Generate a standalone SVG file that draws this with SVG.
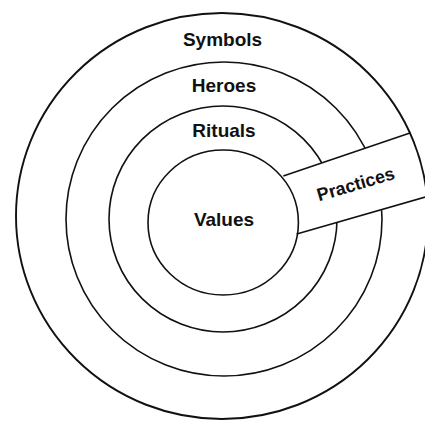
<svg xmlns="http://www.w3.org/2000/svg" width="425" height="421" viewBox="0 0 425 421">
<style>
.ring{fill:none;stroke:#111;stroke-width:1.6}
.outer{fill:none;stroke:#111;stroke-width:1.9}
.edge{stroke:#111;stroke-width:1.6;fill:none}
.lbl{font-family:"Liberation Sans",Arial,sans-serif;font-weight:bold;font-size:19px;fill:#111;text-anchor:middle}
</style>
<rect width="425" height="421" fill="#fff"/>
<g id="heroes">
<ellipse class="ring" cx="224" cy="219" rx="158" ry="157"/>
</g>
<g id="rituals">
<ellipse class="ring" cx="223" cy="219" rx="114" ry="113"/>
</g>
<g id="practices-fill">
<polygon points="283.3,176 410.7,132.7 432,126 432,196 296.7,234" fill="#fff"/>
</g>
<g id="symbols">
<ellipse class="outer" cx="222" cy="216" rx="206" ry="203"/>
<text class="lbl" x="222.5" y="46">Symbols</text>
</g>
<g id="values">
<ellipse class="ring" cx="223.2" cy="222.5" rx="75.2" ry="72.5" fill="#fff"/>
<text class="lbl" x="224" y="226">Values</text>
</g>
<g id="heroes-label">
<text class="lbl" x="224" y="92">Heroes</text>
</g>
<g id="rituals-label">
<text class="lbl" x="224" y="137">Rituals</text>
</g>
<g id="practices">
<line class="edge" x1="283.3" y1="176" x2="410.7" y2="132.7"/>
<line class="edge" x1="296.7" y1="234" x2="427" y2="196.5"/>
<text class="lbl" style="font-size:18px" transform="translate(357.5,190) rotate(-16.5)" x="0" y="0">Practices</text>
</g>
</svg>
